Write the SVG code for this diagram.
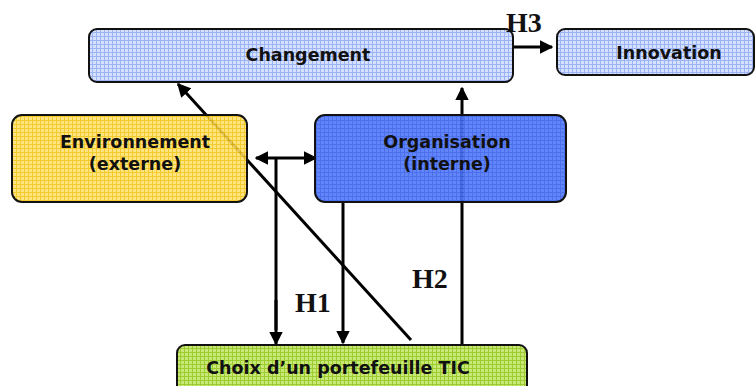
<svg xmlns="http://www.w3.org/2000/svg" width="756" height="386" viewBox="0 0 756 386">
  <style>
    .box { stroke: #111; stroke-width: 2; }
    .lbl { font-family: "DejaVu Sans", Verdana, sans-serif; font-weight: bold; font-size: 17.5px; fill: #111; text-anchor: middle; }
    .h { font-family: "Liberation Serif", "Times New Roman", serif; font-weight: bold; font-size: 28px; fill: #111; }
    .ln { stroke: #000; stroke-width: 3; fill: none; }
    .arr { marker-end: url(#tip); }
  </style>
  <defs>
    <marker id="tip" viewBox="0 0 10 10" refX="9" refY="5" markerWidth="4.6" markerHeight="4.6" orient="auto-start-reverse" markerUnits="strokeWidth">
      <path d="M0,0 L10,5 L0,10 Z" fill="#000"/>
    </marker>
    <pattern id="gBlue" width="4" height="4" patternUnits="userSpaceOnUse">
      <rect width="4" height="4" fill="#d6e1ff"/>
      <path d="M0,0.5 H4 M0.5,0 V4" stroke="#9cb4f4" stroke-width="1"/>
    </pattern>
    <pattern id="gYellow" width="4" height="4" patternUnits="userSpaceOnUse">
      <rect width="4" height="4" fill="#ffe070"/>
      <path d="M0,0.5 H4 M0.5,0 V4" stroke="#f2c410" stroke-width="1"/>
    </pattern>
    <pattern id="gOrg" width="4" height="4" patternUnits="userSpaceOnUse">
      <rect width="4" height="4" fill="#5078fb"/>
      <path d="M0,0.5 H4 M0.5,0 V4" stroke="#3a5fe8" stroke-width="1"/>
    </pattern>
    <pattern id="gGreen" width="4" height="4" patternUnits="userSpaceOnUse">
      <rect width="4" height="4" fill="#c8e878"/>
      <path d="M0,0.5 H4 M0.5,0 V4" stroke="#9ecc30" stroke-width="1"/>
    </pattern>
  </defs>

  <!-- connectors, drawn first so the translucent boxes sit over them -->
  <g id="connectors">
    <line class="ln arr" x1="411" y1="340" x2="178" y2="84"/>
    <line class="ln arr" x1="462" y1="345" x2="462" y2="88"/>
    <line class="ln arr" x1="504" y1="47" x2="552" y2="47"/>
    <line class="ln" x1="276" y1="158" x2="276" y2="330"/>
    <line class="ln arr" x1="276" y1="300" x2="276" y2="344"/>
    <line class="ln arr" x1="343" y1="202" x2="343" y2="343"/>
    <line class="ln arr" x1="256" y1="158" x2="316" y2="158" style="marker-start:url(#tip)"/>
  </g>

  <g id="changement">
    <rect class="box" x="89" y="29" width="424" height="53" rx="8" fill="url(#gBlue)"/>
    <text class="lbl" x="308" y="61">Changement</text>
  </g>

  <g id="innovation">
    <rect class="box" x="557" y="29" width="197" height="46" rx="8" fill="url(#gBlue)"/>
    <text class="lbl" x="669" y="59">Innovation</text>
  </g>

  <g id="environnement">
    <rect class="box" x="12" y="115" width="235" height="87" rx="10" fill="url(#gYellow)" fill-opacity="0.88"/>
    <text class="lbl" x="135" y="148">Environnement</text>
    <text class="lbl" x="135" y="170">(externe)</text>
  </g>

  <g id="organisation">
    <rect class="box" x="315" y="115" width="251" height="87" rx="10" fill="url(#gOrg)" fill-opacity="0.9"/>
    <text class="lbl" x="447" y="148">Organisation</text>
    <text class="lbl" x="447" y="170">(interne)</text>
  </g>

  <g id="choix">
    <rect class="box" x="177" y="345" width="350" height="60" rx="8" fill="url(#gGreen)"/>
    <text class="lbl" x="338" y="374">Choix d’un portefeuille TIC</text>
  </g>

  <g id="hypotheses">
    <text class="h" x="295" y="312">H1</text>
    <text class="h" x="412" y="288">H2</text>
    <text class="h" x="506" y="32">H3</text>
  </g>
</svg>
